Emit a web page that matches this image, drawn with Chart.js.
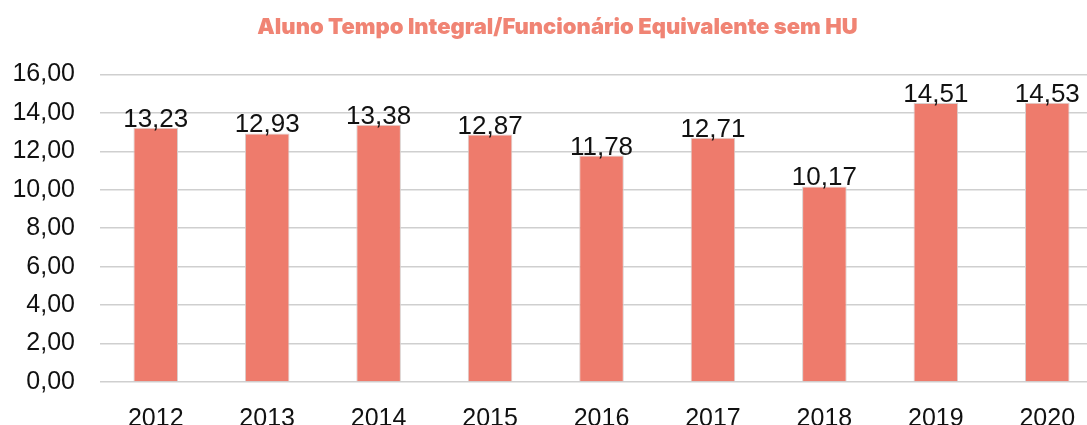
<!DOCTYPE html>
<html>
<head>
<meta charset="utf-8">
<script src="https://cdn.jsdelivr.net/npm/chart.js@4/dist/chart.umd.min.js"></script>
<style>
  html, body { margin: 0; padding: 0; background: #fff; overflow: hidden; }
  #wrap { width: 1105px; height: 425px; }
</style>
</head>
<body>
<div id="wrap"><canvas id="grafico"></canvas></div>
<script>
const anos = ["2012", "2013", "2014", "2015", "2016", "2017", "2018", "2019", "2020"];
const valores = [13.23, 12.93, 13.38, 12.87, 11.78, 12.71, 10.17, 14.51, 14.53];
const titulo = "Aluno Tempo Integral/Funcionário Equivalente sem HU";

const fmt = (v) => v.toLocaleString("pt-BR", { minimumFractionDigits: 2, maximumFractionDigits: 2 });

// rótulos em cima das barras
const rotulos = {
  id: "rotulos",
  afterDatasetsDraw(chart) {
    const ctx = chart.ctx;
    const meta = chart.getDatasetMeta(0);
    ctx.save();
    ctx.font = "26px 'Liberation Sans', Arial, sans-serif";
    ctx.fillStyle = "#111";
    ctx.textAlign = "center";
    ctx.textBaseline = "alphabetic";
    meta.data.forEach((bar, i) => {
      ctx.fillText(fmt(valores[i]), bar.x, bar.y - 1);
    });
    ctx.restore();
  }
};

new Chart(document.getElementById("grafico"), {
  type: "bar",
  data: {
    labels: anos,
    datasets: [{
      data: valores,
      backgroundColor: "#ee7b6c",
      borderColor: "#d9cfcd",
      borderWidth: 1,
      barPercentage: 0.4,
      categoryPercentage: 1
    }]
  },
  options: {
    responsive: true,
    maintainAspectRatio: false,
    animation: false,
    layout: { padding: { left: 12, right: 2, top: 0, bottom: 0 } },
    plugins: {
      legend: { display: false },
      tooltip: { enabled: false },
      title: {
        display: true,
        text: titulo,
        color: "#f08474",
        font: { family: "Inter", size: 22, weight: 900 },
        padding: { top: 14, bottom: 34 }
      }
    },
    scales: {
      x: {
        grid: { display: false },
        border: { display: false },
        afterFit: (s) => { s.height = 43; },
        ticks: {
          color: "#111",
          font: { family: "'Liberation Sans', Arial", size: 25 },
          padding: 14
        }
      },
      y: {
        min: 0,
        max: 16,
        border: { display: false },
        grid: { color: "#cfcfcf", lineWidth: 1.5, drawTicks: false },
        afterFit: (s) => { s.width = 88; },
        ticks: {
          stepSize: 2,
          color: "#111",
          font: { family: "'Liberation Sans', Arial", size: 25 },
          padding: 25,
          callback: (v) => fmt(v)
        }
      }
    }
  },
  plugins: [rotulos]
});
</script>
</body>
</html>
